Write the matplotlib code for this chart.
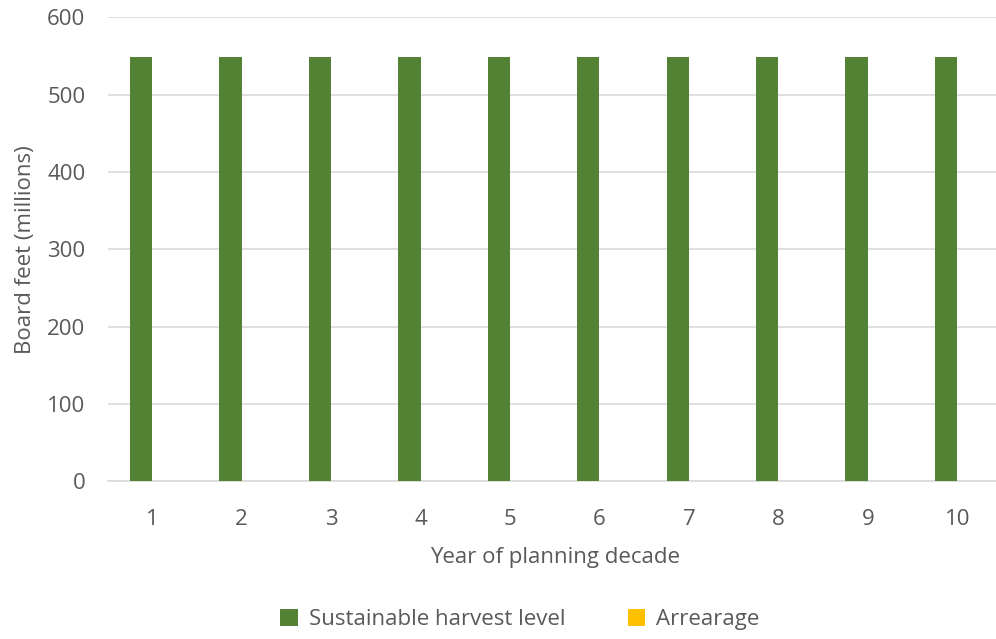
import numpy as np
import matplotlib.pyplot as plt

# planning decade years and harvest volumes (million board feet)
years = ["1", "2", "3", "4", "5", "6", "7", "8", "9", "10"]
sustainable = [548, 548, 548, 548, 548, 548, 548, 548, 548, 548]
arrearage = [0, 0, 0, 0, 0, 0, 0, 0, 0, 0]

plt.rcParams["font.family"] = ["Open Sans", "DejaVu Sans"]
text_color = "#595959"
fs = 16

fig = plt.figure(figsize=(9.96, 6.39), dpi=100)
ax = fig.add_axes([0.108, 0.247, 0.898, 0.726])

x = np.arange(len(years))
width = 0.25

ax.bar(x - width / 2, sustainable, width, color="#548235",
       label="Sustainable harvest level", zorder=3)
ax.bar(x + width / 2, arrearage, width, color="#FFC000",
       label="Arrearage", zorder=3)

ax.set_xlim(-0.5, len(years) - 0.5)
ax.set_ylim(0, 600)
ax.set_yticks(range(0, 601, 100))
ax.set_xticks(x)
ax.set_xticklabels(years)

ax.grid(axis="y", color="#d9d9d9", linewidth=1.2, zorder=0)
for side in ["top", "right", "left"]:
    ax.spines[side].set_visible(False)
ax.spines["bottom"].set_color("#d9d9d9")
ax.spines["bottom"].set_linewidth(1.2)

ax.tick_params(axis="both", length=0, labelsize=fs, colors=text_color)
ax.tick_params(axis="x", pad=20)
ax.tick_params(axis="y", pad=16)

ax.set_xlabel("Year of planning decade", fontsize=fs, color=text_color, labelpad=12)
ax.set_ylabel("Board feet (millions)", fontsize=fs, color=text_color, labelpad=8)

# legend is centred on the whole figure, below the plot
ax.legend(loc="center", bbox_to_anchor=(0.522, 0.03),
          bbox_transform=fig.transFigure, ncol=2,
          frameon=False, fontsize=fs, labelcolor=text_color,
          handlelength=0.8, handleheight=0.8, columnspacing=2.8,
          handletextpad=0.5)

fig.savefig("out.png", dpi=100)
